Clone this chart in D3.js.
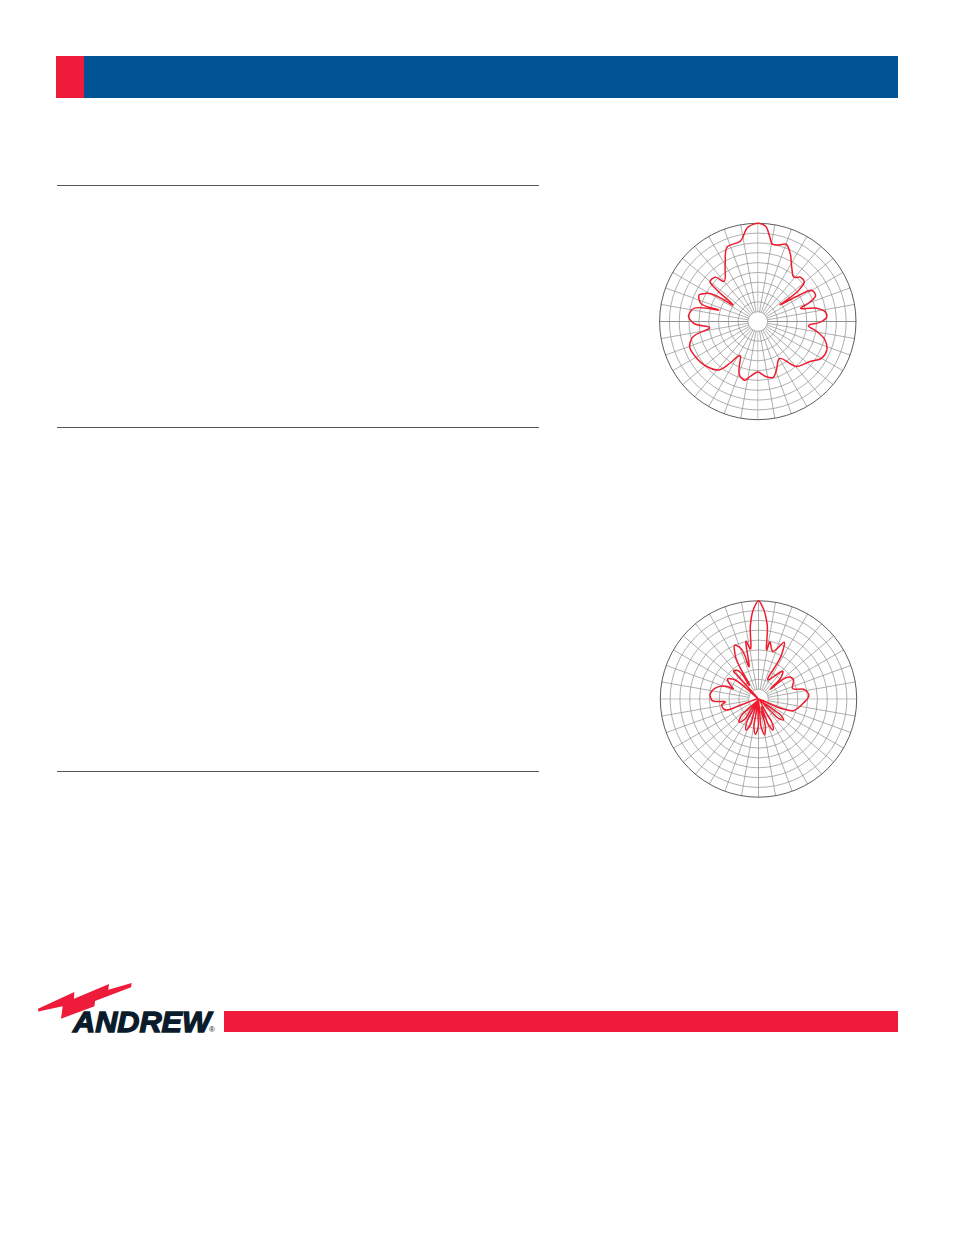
<!DOCTYPE html>
<html><head><meta charset="utf-8">
<script src="https://cdnjs.cloudflare.com/ajax/libs/d3/7.8.5/d3.min.js"></script>
<style>html,body{margin:0;padding:0;background:#fff}svg{display:block}</style></head>
<body><svg id="page" width="954" height="1235" viewBox="0 0 954 1235"></svg>
<script>
const azimuthA=[0,2.3,4.4,7.7,11,15,20,25.3,32.5,39.3,44.3,49.4,52.3,53.3,57.3,61.7,65.3,69.7,72.8,77.3,81.6,85.9,90,94.9,99.6,105.2,112.3,119.8,127.4,139,150,160,164.4,172.4,180,187.9,192.7,197.8,208.3,213.6,219,228.6,240.8,249.9,255.8,262.9,268.5,274.1,280,286.5,288.2,294.4,299,303.7,308,310,316,319.4,330,338,347.5,354.4,357.7];
const levelA=[0,-0.3,-0.9,-4.7,-8,-7.7,-6.5,-9.2,-14.2,-16.7,-14.9,-15.1,-18.3,-28.6,-21.2,-14.2,-14.1,-17.4,-21.7,-15.5,-12.3,-11.8,-14,-19.3,-15.6,-11.7,-9.6,-10,-13.2,-15.7,-22.5,-18.3,-16.4,-17.5,-19.4,-17.4,-15.5,-16.5,-24.3,-19.7,-14.6,-12.3,-10.8,-10.4,-12.3,-20.2,-13.8,-11.7,-12.7,-23.3,-15.3,-13.8,-16.3,-27.8,-18,-14.6,-14.9,-18.6,-13.4,-7.1,-6.6,-1.2,-0.3];
const azimuthB=[0,3,6.7,9.8,11.2,16.3,24.4,27.6,27,42,45.8,50,57,60,72.6,79,85.5,95.5,108.6,112,122,125.5,126,130,134,134.5,137,151,150.5,155,158.5,159,161,164.5,167,166.5,170.5,174,175,178,181.5,181,185,189,189.5,194,198,197.5,202,206.5,207,211,215,214.5,220,225.5,226,232,252,255,260.8,264.3,268.8,274.7,283.7,292,291.5,299.7,302.6,308,311,314,318,318,319,322,326,332.6,336.3,339.7,343.4,348.2,350.3,353.8,357];
const levelB=[0,-3.1,-9.6,-19.4,-16.3,-19.7,-14.6,-19.8,-31.3,-25.1,-27,-33.6,-24,-23.7,-25.5,-20.7,-19.4,-21.7,-25.1,-29.2,-39.8,-31.9,-28.5,-26.7,-28.5,-33.2,-38.9,-33.2,-28.5,-26,-28.5,-33.9,-36.6,-32.1,-34.6,-27.8,-25.2,-27.8,-33.9,-39.3,-33.2,-28.1,-25.6,-28.1,-33.2,-39.5,-33.2,-28.9,-26.4,-28.9,-33.9,-39.5,-33.9,-29.8,-27.7,-29.8,-33.9,-40,-33.2,-25.1,-24.8,-26.3,-20.9,-20.2,-21.7,-26.7,-28.9,-25.8,-25,-26.9,-32,-39.5,-33.2,-27.1,-24.7,-25.1,-33.2,-19.1,-16,-17.4,-26.3,-16.1,-19.1,-9.6,-3.1];
const ringLevels=[-36,-32,-28,-24,-20,-16,-12,-8,-4,0];
const spokeAngles=d3.range(0,360,10);
const dbDomain=[-40,0];
const svg=d3.select('#page');
const RED='#ee1c3a',CURVE='#ee1c2e',BLUE='#005395',INK='#0a1c2b';
function pageShapes(){
 svg.append('rect').attr('x',0).attr('y',0).attr('width',954).attr('height',1235).attr('fill','#fff');
 svg.append('rect').attr('x',84).attr('y',56).attr('width',814).attr('height',42).attr('fill',BLUE);
 svg.append('rect').attr('x',56).attr('y',56).attr('width',28).attr('height',42).attr('fill',RED);
 svg.selectAll('line.rule').data([185.5,427.5,771.5]).join('line').attr('class','rule').attr('x1',57).attr('x2',539).attr('y1',d=>d).attr('y2',d=>d).attr('stroke','#55585a').attr('stroke-width',1);
 svg.append('rect').attr('x',224).attr('y',1011).attr('width',674).attr('height',21).attr('fill',RED);
 svg.append('path').attr('fill',RED).attr('d','M38 1008.7L74.3 992L74 998.7L109 984L108.3 989.7L131.7 983L131 987.3L95 1001L94.5 1006.3L61 1018.7L62.7 1006.3L38.3 1011.5Z');
 svg.append('text').attr('x',73).attr('y',1031.5).attr('font-family','Liberation Sans').attr('font-weight',700).attr('font-style','italic').attr('font-size',29).attr('textLength',138).attr('lengthAdjust','spacingAndGlyphs').attr('fill',INK).attr('stroke',INK).attr('stroke-width',1.3).text('ANDREW');
 svg.append('text').attr('x',209).attr('y',1032).attr('font-family','Liberation Sans').attr('font-size',8).attr('fill',INK).text('®');
}
function polar(cx,cy,R,az,lv,horizColor,vertColor){
 const r=d3.scaleLinear().domain(dbDomain).range([0,R]);
 const g=svg.append('g').attr('transform',`translate(${cx},${cy})`);
 const rIn=r(ringLevels[0]);
 g.selectAll('line.sp').data(spokeAngles).join('line').attr('class','sp')
  .attr('x1',a=>rIn*Math.sin(a*Math.PI/180)).attr('y1',a=>-rIn*Math.cos(a*Math.PI/180))
  .attr('x2',a=>R*Math.sin(a*Math.PI/180)).attr('y2',a=>-R*Math.cos(a*Math.PI/180))
  .attr('stroke',a=>a%180===0?vertColor:(a%180===90?horizColor:'#8e8e8e')).attr('stroke-width',.7);
 g.selectAll('circle.ring').data(ringLevels).join('circle').attr('class','ring').attr('r',d=>r(d)).attr('fill','none')
  .attr('stroke',d=>d===0?'#333':'#8e8e8e').attr('stroke-width',d=>d===0?.8:.7);
 const line=d3.lineRadial().angle((d,i)=>az[i]*Math.PI/180).radius(d=>r(d)).curve(d3.curveCatmullRomClosed.alpha(1));
 g.append('path').attr('d',line(lv)).attr('fill','none').attr('stroke',CURVE).attr('stroke-width',1.5).attr('stroke-linejoin','round');
}
pageShapes();
polar(757.8,321.5,98.2,azimuthA,levelA,'#666','#aaa');
polar(758.5,699,98.2,azimuthB,levelB,'#aaa','#888');
</script></body></html>
